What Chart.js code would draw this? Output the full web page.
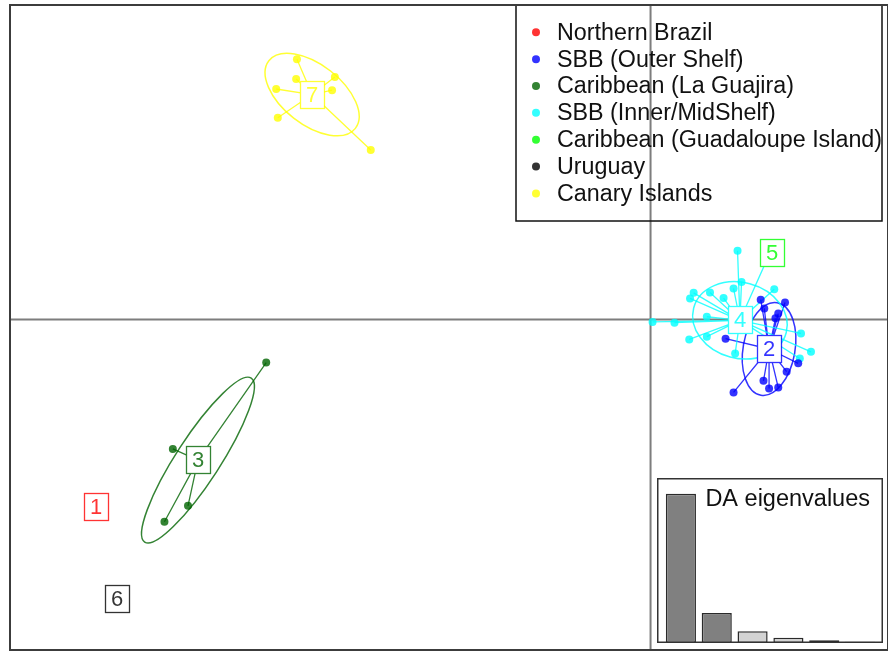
<!DOCTYPE html>
<html>
<head>
<meta charset="utf-8">
<script src="https://cdn.jsdelivr.net/npm/chart.js@4/dist/chart.umd.min.js"></script>
<style>
  html, body { margin: 0; padding: 0; background: #ffffff; overflow: hidden; width: 888px; height: 654px; }
  #main { position: absolute; left: 0; top: 0; }
  #eig { position: absolute; left: 657px; top: 478px; }
</style>
</head>
<body>
<canvas id="main" width="892" height="654"></canvas>
<canvas id="eig" width="226" height="166"></canvas>
<script>
// Population names, short group ids and colours
const groupNames = ['Northern Brazil', 'SBB (Outer Shelf)', 'Caribbean (La Guajira)', 'SBB (Inner/MidShelf)',
                    'Caribbean (Guadaloupe Island)', 'Uruguay', 'Canary Islands'];
const groupIds = ['1', '2', '3', '4', '5', '6', '7'];
const groupColors = ['rgba(255,0,0,0.8)', 'rgba(0,0,255,0.8)', 'rgba(0,100,0,0.8)', 'rgba(0,255,255,0.8)',
                     'rgba(0,255,0,0.8)', 'rgba(0,0,0,0.8)', 'rgba(255,255,0,0.8)'];

// Individual scores on discriminant functions 1 and 2, per population
const scoresNorthernBrazil = [[-13.90, -4.70]];
const scoresSBBOuter = [[2.76, 0.50], [3.37, 0.43], [2.85, 0.28], [3.20, 0.15], [3.13, 0.03], [1.88, -0.48],
                        [3.70, -1.10], [3.41, -1.31], [2.83, -1.54], [2.97, -1.73], [3.20, -1.71], [2.08, -1.83]];
const scoresLaGuajira = [[-9.63, -1.08], [-11.97, -3.25], [-11.59, -4.68], [-12.18, -5.08]];
const scoresSBBInner = [[2.18, 1.73], [2.28, 0.94], [2.08, 0.78], [3.10, 0.76], [1.49, 0.68], [1.08, 0.67],
                        [0.99, 0.53], [1.83, 0.54], [1.41, 0.07], [0.60, -0.08], [0.05, -0.06], [0.97, -0.50],
                        [1.41, -0.43], [2.12, -0.85], [3.77, -0.35], [3.74, -0.98], [4.02, -0.81], [2.95, 1.58]];
const scoresGuadaloupe = [[3.05, 1.68]];
const scoresUruguay = [[-13.38, -7.03]];
const scoresCanary = [[-8.86, 6.54], [-8.88, 6.04], [-7.91, 6.09], [-9.38, 5.79], [-7.98, 5.76], [-9.34, 5.07], [-7.01, 4.26]];

const groupScores = [scoresNorthernBrazil, scoresSBBOuter, scoresLaGuajira, scoresSBBInner,
                     scoresGuadaloupe, scoresUruguay, scoresCanary];

// Group centroids
const groupCentroids = [[-13.90, -4.70], [2.97, -0.74], [-11.34, -3.53], [2.24, -0.02],
                        [3.05, 1.68], [-13.38, -7.03], [-8.48, 5.65]];

// Inertia ellipses: semi-axes and orientation (degrees); null where the group has one member
const ellipseAxes = [null, [1.175, 0.65, 80], [2.45, 0.55, 57], [1.2, 0.95, -15], null, null, [1.375, 0.75, -38]];

// Eigenvalues of the discriminant analysis
const eigenvalues = [149.3, 30.0, 11.7, 5.3, 2.7, 1.3];
const retainedAxes = 2;

const FONT = '"Liberation Sans", Arial, Helvetica, sans-serif';

const decor = {
  id: 'dapcDecor',
  beforeDatasetsDraw(chart) {
    const ctx = chart.ctx, a = chart.chartArea, sx = chart.scales.x, sy = chart.scales.y;
    const k = sx.getPixelForValue(1) - sx.getPixelForValue(0);
    ctx.save();
    // axes through the origin
    ctx.strokeStyle = '#7d7d7d';
    ctx.lineWidth = 2;
    ctx.beginPath();
    const x0 = sx.getPixelForValue(0), y0 = sy.getPixelForValue(0);
    ctx.moveTo(x0, a.top); ctx.lineTo(x0, a.bottom);
    ctx.moveTo(a.left, y0); ctx.lineTo(a.right, y0);
    ctx.stroke();
    // stars and ellipses
    groupScores.forEach((pts, g) => {
      const c = groupCentroids[g];
      const cx = sx.getPixelForValue(c[0]), cy = sy.getPixelForValue(c[1]);
      ctx.strokeStyle = groupColors[g];
      ctx.lineWidth = 1.3;
      ctx.beginPath();
      pts.forEach(p => { ctx.moveTo(cx, cy); ctx.lineTo(sx.getPixelForValue(p[0]), sy.getPixelForValue(p[1])); });
      ctx.stroke();
      const e = ellipseAxes[g];
      if (e) {
        ctx.lineWidth = 1.5;
        ctx.beginPath();
        ctx.ellipse(cx, cy, e[0] * k, e[1] * k, -e[2] * Math.PI / 180, 0, 2 * Math.PI);
        ctx.stroke();
      }
    });
    ctx.restore();
  },
  afterDatasetsDraw(chart) {
    const ctx = chart.ctx, a = chart.chartArea, sx = chart.scales.x, sy = chart.scales.y;
    ctx.save();
    // group labels
    ctx.font = '22px ' + FONT;
    ctx.textAlign = 'center';
    ctx.textBaseline = 'middle';
    groupCentroids.forEach((c, g) => {
      const cx = Math.round(sx.getPixelForValue(c[0])), cy = Math.round(sy.getPixelForValue(c[1]));
      ctx.fillStyle = '#ffffff';
      ctx.fillRect(cx - 12, cy - 14, 24, 28);
      ctx.strokeStyle = groupColors[g];
      ctx.lineWidth = 1.3;
      ctx.strokeRect(cx - 12 + 0.5, cy - 14 + 0.5, 24, 27);
      ctx.fillStyle = groupColors[g];
      ctx.fillText(groupIds[g], cx, cy + 1);
    });
    // legend
    const lx = 516, ly = 5, lw = 366, lh = 216;
    ctx.strokeStyle = '#111111';
    ctx.lineWidth = 1.5;
    ctx.strokeRect(lx, ly, lw, lh);
    ctx.font = '23.3px ' + FONT;
    ctx.textAlign = 'left';
    groupNames.forEach((name, g) => {
      const y = 32.3 + g * 26.85;
      ctx.fillStyle = groupColors[g];
      ctx.beginPath();
      ctx.arc(536, y, 4, 0, 2 * Math.PI);
      ctx.fill();
      ctx.fillStyle = '#111111';
      ctx.fillText(name, 557, y + 1);
    });
    // frame
    ctx.strokeStyle = '#3c3c3c';
    ctx.lineWidth = 2;
    ctx.strokeRect(a.left, a.top, a.right - a.left, a.bottom - a.top);
    ctx.restore();
  }
};

new Chart(document.getElementById('main'), {
  type: 'scatter',
  data: {
    datasets: groupScores.map((pts, g) => ({
      label: groupNames[g],
      data: pts.map(p => ({ x: p[0], y: p[1] })),
      backgroundColor: groupColors[g],
      borderWidth: 0,
      pointRadius: 4
    }))
  },
  options: {
    responsive: false,
    devicePixelRatio: 1,
    animation: false,
    layout: { padding: { left: 10, top: 5, right: 2, bottom: 1 } },
    plugins: { legend: { display: false }, tooltip: { enabled: false } },
    scales: {
      x: { type: 'linear', min: -16.05, max: 5.95, display: false },
      y: { type: 'linear', min: -8.3, max: 7.9, display: false }
    }
  },
  plugins: [decor]
});

const eigDecor = {
  id: 'eigDecor',
  beforeDraw(chart) {
    const ctx = chart.ctx;
    ctx.save();
    ctx.fillStyle = '#ffffff';
    ctx.fillRect(0, 0, chart.width, chart.height);
    ctx.restore();
  },
  afterDraw(chart) {
    const ctx = chart.ctx;
    ctx.save();
    ctx.strokeStyle = '#333333';
    ctx.lineWidth = 1.5;
    ctx.strokeRect(0.75, 0.75, chart.width - 1.5, chart.height - 2.5);
    ctx.font = '23.5px ' + FONT;
    ctx.fillStyle = '#111111';
    ctx.textAlign = 'right';
    ctx.textBaseline = 'alphabetic';
    ctx.fillText('DA eigenvalues', 213, 28);
    ctx.restore();
  }
};

new Chart(document.getElementById('eig'), {
  type: 'bar',
  data: {
    labels: eigenvalues.map((v, i) => String(i + 1)),
    datasets: [{
      data: eigenvalues,
      backgroundColor: eigenvalues.map((v, i) => i < retainedAxes ? '#808080' : '#d3d3d3'),
      borderColor: '#2a2a2a',
      borderWidth: 1.5,
      borderSkipped: false,
      barPercentage: 0.84,
      categoryPercentage: 1
    }]
  },
  options: {
    responsive: false,
    devicePixelRatio: 1,
    animation: false,
    layout: { padding: { left: 6, top: 5, right: 5, bottom: 1 } },
    plugins: { legend: { display: false }, tooltip: { enabled: false } },
    scales: {
      x: { display: false },
      y: { display: false, min: 0, max: 160 }
    }
  },
  plugins: [eigDecor]
});
</script>
</body>
</html>
